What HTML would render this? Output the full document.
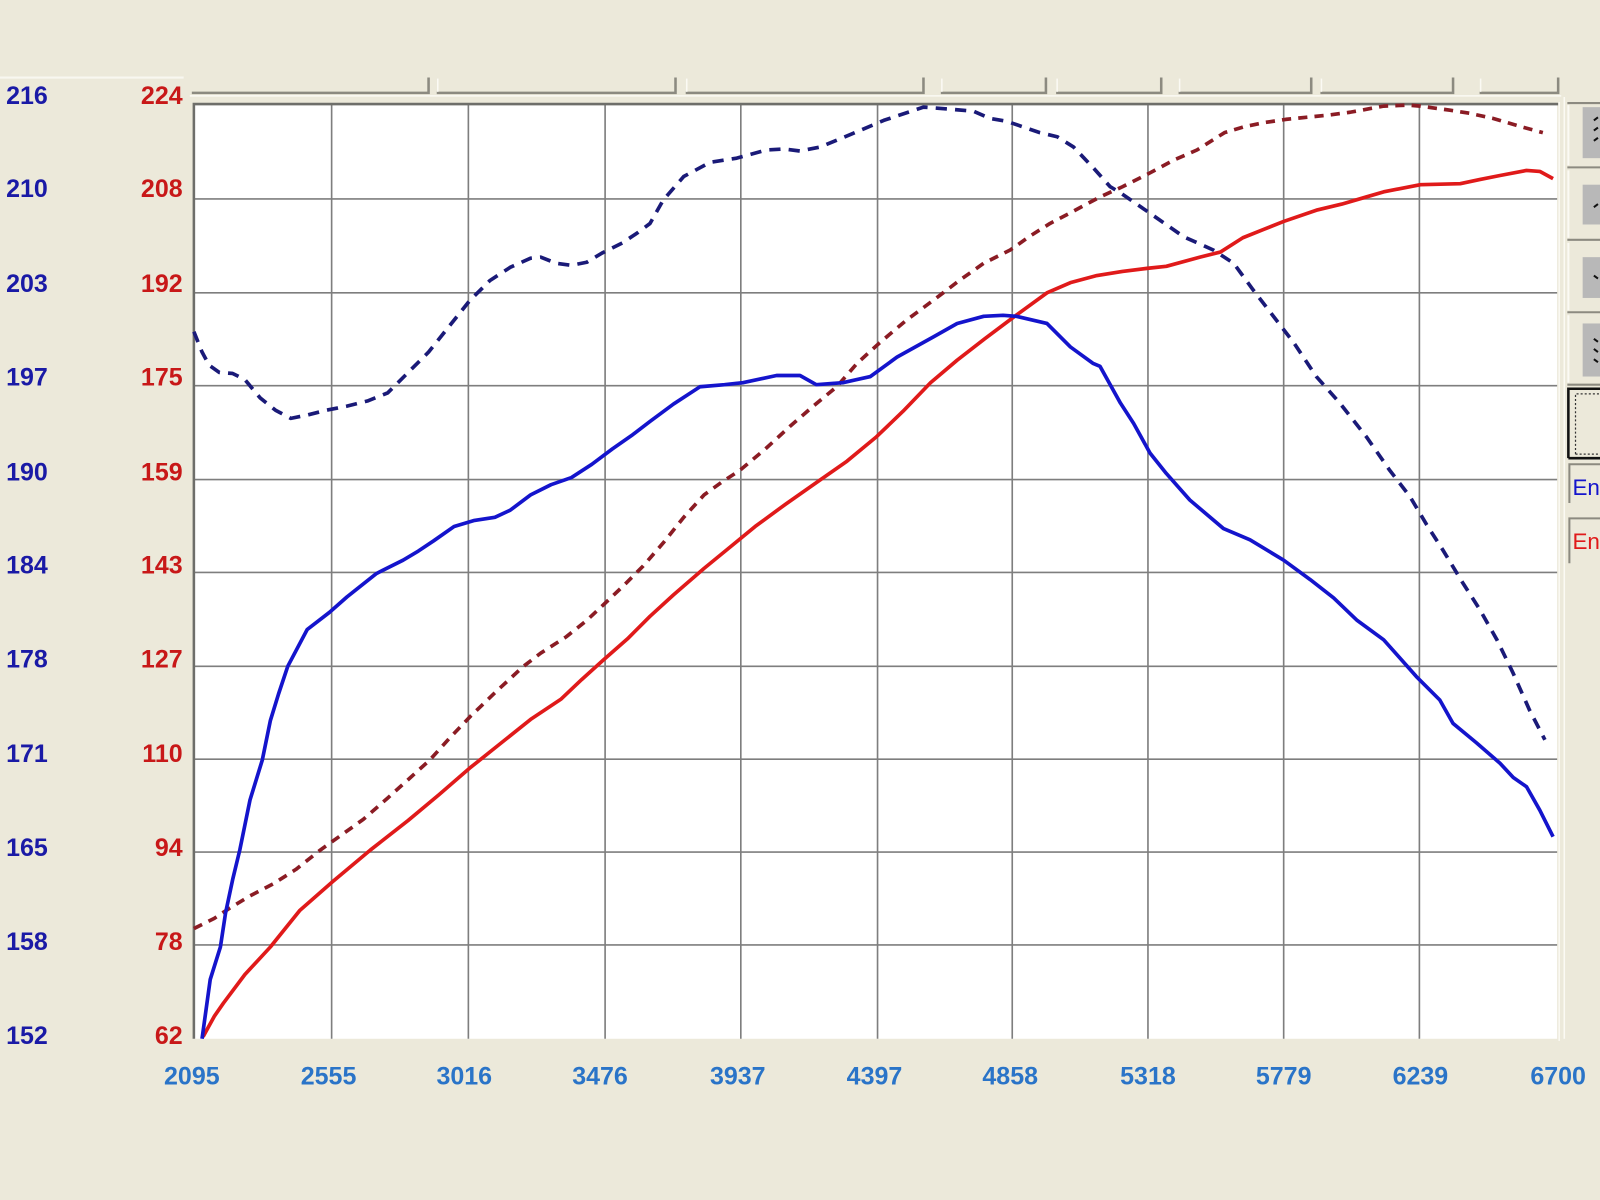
<!DOCTYPE html>
<html><head><meta charset="utf-8"><style>
html,body{margin:0;padding:0;background:#ece9da;}
svg{display:block;}
text{font-family:"Liberation Sans",Arial,sans-serif;font-weight:bold;}
</style></head><body>
<svg width="1600" height="1200" viewBox="0 0 1568 1176" xmlns="http://www.w3.org/2000/svg">
<rect x="0" y="0" width="1568" height="1176" fill="#ece9da"/>
<line x1="0" y1="76" x2="180" y2="76" stroke="#f8f7f0" stroke-width="2"/>
<!-- header segments -->
<g fill="none" stroke-width="2.5">
<g stroke="#8c8a80">
<path d="M188 91 H420 V76"/><path d="M428 91 H662 V76"/><path d="M672 91 H905 V76"/><path d="M922 91 H1025 V76"/><path d="M1035 91 H1138 V76"/><path d="M1155 91 H1285 V76"/><path d="M1294 91 H1424 V76"/><path d="M1450 91 H1527 V76"/>
</g>
<g stroke="#fbfaf4" stroke-width="1.5">
<path d="M429 90 V77"/><path d="M673 90 V77"/><path d="M923 90 V77"/><path d="M1036 90 V77"/><path d="M1156 90 V77"/><path d="M1295 90 V77"/><path d="M1451 90 V77"/>
<path d="M186 94 H1530"/>
</g>
</g>
<!-- plot -->
<rect x="190" y="102" width="1336" height="916" fill="#ffffff"/>
<g stroke="#7e7e7e" stroke-width="1.6">
<line x1="325" y1="102" x2="325" y2="1018"/><line x1="459" y1="102" x2="459" y2="1018"/><line x1="593" y1="102" x2="593" y2="1018"/><line x1="726" y1="102" x2="726" y2="1018"/><line x1="860" y1="102" x2="860" y2="1018"/><line x1="992" y1="102" x2="992" y2="1018"/><line x1="1125" y1="102" x2="1125" y2="1018"/><line x1="1258" y1="102" x2="1258" y2="1018"/><line x1="1391" y1="102" x2="1391" y2="1018"/>
<line x1="190" y1="195" x2="1526" y2="195"/><line x1="190" y1="287" x2="1526" y2="287"/><line x1="190" y1="378" x2="1526" y2="378"/><line x1="190" y1="470" x2="1526" y2="470"/><line x1="190" y1="561" x2="1526" y2="561"/><line x1="190" y1="653" x2="1526" y2="653"/><line x1="190" y1="744" x2="1526" y2="744"/><line x1="190" y1="835" x2="1526" y2="835"/><line x1="190" y1="926" x2="1526" y2="926"/>
</g>
<path d="M190 1018 V102 H1527" fill="none" stroke="#6e6e6a" stroke-width="2.5"/>
<line x1="1528" y1="100" x2="1528" y2="1020" stroke="#fbfaf4" stroke-width="1.5"/>
<!-- curves -->
<g fill="none" stroke-width="3.6" stroke-linejoin="round" stroke-linecap="butt">
<polyline stroke="#8b1c24" stroke-dasharray="9,7" points="190,910 210,900 225,890 245,878 268,866 290,852 314,833 335,818 356,803 380,782 400,764 421,745 440,724 461,702 487,677 513,653 530,640 555,624 575,608 591,593 610,575 630,555 650,532 670,507 690,485 708,472 725,461 750,440 774,418 797,398 820,379 840,356 862,336 888,314 915,294 940,275 964,258 990,245 1010,231 1029,219 1050,208 1078,193 1100,183 1124,171 1150,157 1173,147 1200,130 1220,124 1240,120 1260,117 1280,115 1300,113 1323,110 1356,104 1380,103 1392,104 1421,108 1440,111 1463,116 1490,124 1512,130"/>
<polyline stroke="#1a1a78" stroke-dasharray="11,8" points="190,325 198,345 205,358 215,365 228,366 240,372 255,390 270,402 285,410 300,407 320,402 340,398 360,393 380,385 400,365 420,345 440,320 460,295 480,275 500,262 520,253 530,252 545,258 560,260 575,257 590,248 610,238 625,228 637,219 650,196 670,173 696,159 722,155 751,147 768,146 784,148 804,144 833,132 866,118 890,110 905,105 931,107 954,109 970,116 987,119 1019,130 1036,134 1052,144 1071,164 1088,183 1098,189 1127,209 1160,232 1189,245 1209,258 1228,284 1248,310 1268,336 1290,369 1313,395 1339,428 1362,461 1382,487 1398,514 1414,539 1434,572 1450,597 1467,627 1483,660 1499,696 1514,725"/>
<polyline stroke="#e01a1a" points="199,1016 210,996 219,983 240,955 265,928 294,892 326,864 363,833 400,804 430,779 460,753 490,729 520,705 550,685 570,666 591,647 615,626 637,604 660,583 690,557 712,539 740,516 770,494 800,473 830,452 859,428 885,403 912,375 938,353 965,332 993,311 1026,287 1049,277 1075,270 1100,266 1124,263 1143,261 1176,252 1196,247 1218,233 1238,225 1258,217 1290,206 1315,200 1339,193 1356,188 1392,181 1431,180 1450,176 1470,172 1496,167 1509,168 1522,175"/>
<polyline stroke="#1414cc" points="198,1018 206,960 216,928 221,895 228,862 235,833 245,784 257,745 265,706 273,680 282,653 301,617 323,600 340,585 369,562 395,549 410,540 425,530 445,516 465,510 485,507 500,500 520,485 540,475 560,468 580,455 600,440 620,426 637,413 660,396 686,379 710,377 728,375 761,368 784,368 800,377 826,375 853,369 879,350 915,330 938,317 964,310 983,309 996,310 1026,317 1049,340 1071,356 1078,359 1098,395 1111,415 1127,444 1143,464 1166,490 1199,518 1225,529 1258,549 1284,568 1307,586 1330,608 1356,627 1388,663 1411,686 1424,709 1447,728 1470,748 1483,762 1496,771 1509,794 1522,820"/>
</g>
<!-- left labels -->
<g font-size="24.5" fill="#1a1aa6">
<text x="6" y="102">216</text><text x="6" y="193">210</text><text x="6" y="286">203</text><text x="6" y="378">197</text><text x="6" y="471">190</text><text x="6" y="562">184</text><text x="6" y="654">178</text><text x="6" y="747">171</text><text x="6" y="839">165</text><text x="6" y="931">158</text><text x="6" y="1023">152</text>
</g>
<g font-size="24.5" fill="#c81818" text-anchor="end">
<text x="179" y="102">224</text><text x="179" y="193">208</text><text x="179" y="286">192</text><text x="179" y="378">175</text><text x="179" y="471">159</text><text x="179" y="562">143</text><text x="179" y="654">127</text><text x="179" y="747">110</text><text x="179" y="839">94</text><text x="179" y="931">78</text><text x="179" y="1023">62</text>
</g>
<g font-size="24.5" fill="#2a74c8" text-anchor="middle">
<text x="188" y="1063">2095</text><text x="322" y="1063">2555</text><text x="455" y="1063">3016</text><text x="588" y="1063">3476</text><text x="723" y="1063">3937</text><text x="857" y="1063">4397</text><text x="990" y="1063">4858</text><text x="1125" y="1063">5318</text><text x="1258" y="1063">5779</text><text x="1392" y="1063">6239</text><text x="1527" y="1063">6700</text>
</g>
<!-- right panel -->
<g>
<line x1="1533" y1="95" x2="1533" y2="1018" stroke="#fbfaf4" stroke-width="1.5"/>
<g fill="none" stroke-width="2">
<path d="M1536 101 H1568" stroke="#8c8a80"/><path d="M1536 164 H1568" stroke="#8c8a80"/><path d="M1536 235 H1568" stroke="#8c8a80"/><path d="M1536 306 H1568" stroke="#8c8a80"/><path d="M1536 377 H1568" stroke="#8c8a80"/>
<path d="M1537 103 V162 M1537 167 V233 M1537 238 V304 M1537 309 V375" stroke="#fbfaf4"/>
</g>
<rect x="1551" y="105" width="17" height="50" fill="#b8b8b8"/>
<rect x="1551" y="181" width="17" height="39" fill="#b8b8b8"/>
<rect x="1551" y="252" width="17" height="40" fill="#b8b8b8"/>
<rect x="1551" y="317" width="17" height="52" fill="#b8b8b8"/>
<g fill="none" stroke="#111" stroke-width="2">
<path d="M1562 118 l4 -3 M1562 128 l4 -3 M1562 138 l4 -3"/>
<path d="M1562 203 l4 -3"/>
<path d="M1562 270 l4 3"/>
<path d="M1562 332 l4 3 M1562 342 l4 3 M1562 352 l4 3"/>
</g>
<path d="M1537 449 V381 H1568" fill="none" stroke="#111" stroke-width="2.5"/>
<path d="M1537 449 H1568" stroke="#111" stroke-width="2.5"/>
<path d="M1544 445 V386 H1568 M1544 445 H1568" fill="none" stroke="#333" stroke-width="1.2" stroke-dasharray="2,2"/>
<path d="M1538 493 V455 H1568" fill="none" stroke="#8c8a80" stroke-width="2"/>
<path d="M1538 552 V508 H1568" fill="none" stroke="#8c8a80" stroke-width="2"/>
<text x="1541" y="485" font-size="22" fill="#1414cc" style="font-weight:normal">En</text>
<text x="1541" y="538" font-size="22" fill="#e01a1a" style="font-weight:normal">En</text>
</g>
</svg>
</body></html>
